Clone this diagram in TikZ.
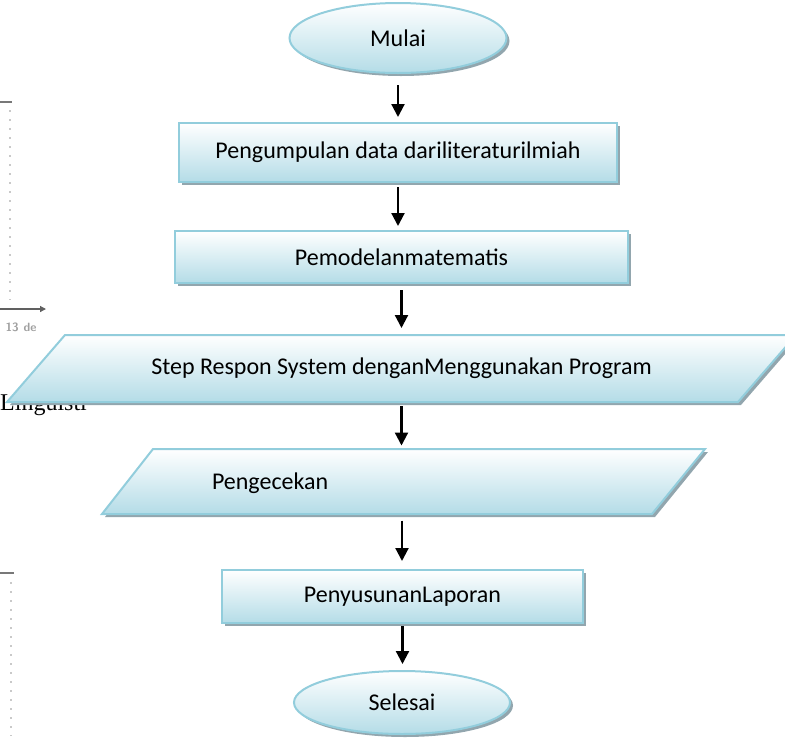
\documentclass[tikz,border=0pt]{standalone}
\usepackage{fontspec}
\setmainfont{Carlito}
\newfontfamily\oldserif{Liberation Serif}
\usetikzlibrary{shapes.geometric,arrows.meta,shadows}
\definecolor{edgeb}{RGB}{146,205,220}
\definecolor{fillb}{RGB}{180,220,231}
\definecolor{shad}{RGB}{146,166,174}
\definecolor{ghost}{RGB}{120,120,120}
\begin{document}
\begin{tikzpicture}[x=1pt,y=-1pt,
  shape3d/.style={draw=edgeb, line width=2pt, top color=white, bottom color=fillb,
    drop shadow={shadow xshift=3pt, shadow yshift=-3pt, fill=shad, opacity=1}},
  box/.style={shape3d, inner sep=0pt, outer sep=0pt, font=\fontsize{24}{29}\selectfont},
  anchorbox/.style={inner sep=0pt, outer sep=0pt, font=\fontsize{24}{29}\selectfont},
  arr/.style={line width=2.2pt, -{Triangle[width=13pt,length=13pt]}},
  ghostline/.style={draw=ghost, line width=1.5pt}]
\useasboundingbox (0,0) rectangle (785,740);

% left-margin remnants of the scanned page
\draw[ghostline] (0,102) -- (12,102);
\draw[ghost!40, line width=1.5pt, dash pattern=on 2pt off 7pt] (10,110) -- (10,300);
\coordinate (axs) at (0,309);
\coordinate (axe) at (46,309);
\draw[ghost!80!black, line width=1.3pt, -{Triangle[width=6pt,length=6pt]}] (axs) -- (axe);
\node[ghost!70, font=\fontsize{12}{13}\selectfont\sffamily\bfseries, anchor=west] (gl) at (2,327) {13\hspace{5pt}de};
\node[font=\fontsize{24}{29}\selectfont\oldserif, anchor=base west, inner sep=0pt] (ling) at (0,410) {Linguisti};
\draw[ghostline] (0,573) -- (14,573);
\draw[ghost!40, line width=1.5pt, dash pattern=on 2pt off 7pt] (11,582) -- (11,736);

% flowchart shapes
\node[box, ellipse, minimum width=217pt, minimum height=70pt] (m) at (398,38) {Mulai};
\node[box, rectangle, minimum width=438pt, minimum height=59pt] (r1) at (398,152.5) {Pengumpulan data dariliteraturilmiah};
\node[box, rectangle, minimum width=453pt, minimum height=52pt] (r2) at (401.5,257) {Pemodelanmatematis};

\path[shape3d] (65,335) -- (796,335) -- (738,402) -- (7,402) -- cycle;
\node[anchorbox, minimum width=500pt, minimum height=67pt] (p1) at (401.5,368.5) {Step Respon System denganMenggunakan Program};

\path[shape3d] (153,449) -- (705,449) -- (652,514) -- (102,514) -- cycle;
\node[anchorbox, minimum height=65pt, text width=380pt, align=left] (p2) at (402,483) {Pengecekan};

\node[box, rectangle, minimum width=361pt, minimum height=53pt] (r3) at (402.5,596.5) {PenyusunanLaporan};
\node[box, ellipse, minimum width=216pt, minimum height=63pt] (s) at (402,702.5) {Selesai};

% connectors
\draw[arr] ([yshift=-12pt]m.south) -- ([yshift=6pt]m.south |- r1.north);
\draw[arr] ([yshift=-5pt]r1.south) -- ([yshift=5pt]r1.south |- r2.north);
\draw[arr] ([yshift=-7pt]r2.south) -- ([yshift=7pt]r2.south |- p1.north);
\draw[arr] ([yshift=-4pt]p1.south) -- ([yshift=5pt]p1.south |- p2.north);
\draw[arr] ([yshift=-5pt]p2.south) -- ([yshift=9pt]p2.south |- r3.north);
\draw[arr] ([yshift=-3pt]r3.south) -- ([yshift=7pt]r3.south |- s.north);
\end{tikzpicture}
\end{document}
